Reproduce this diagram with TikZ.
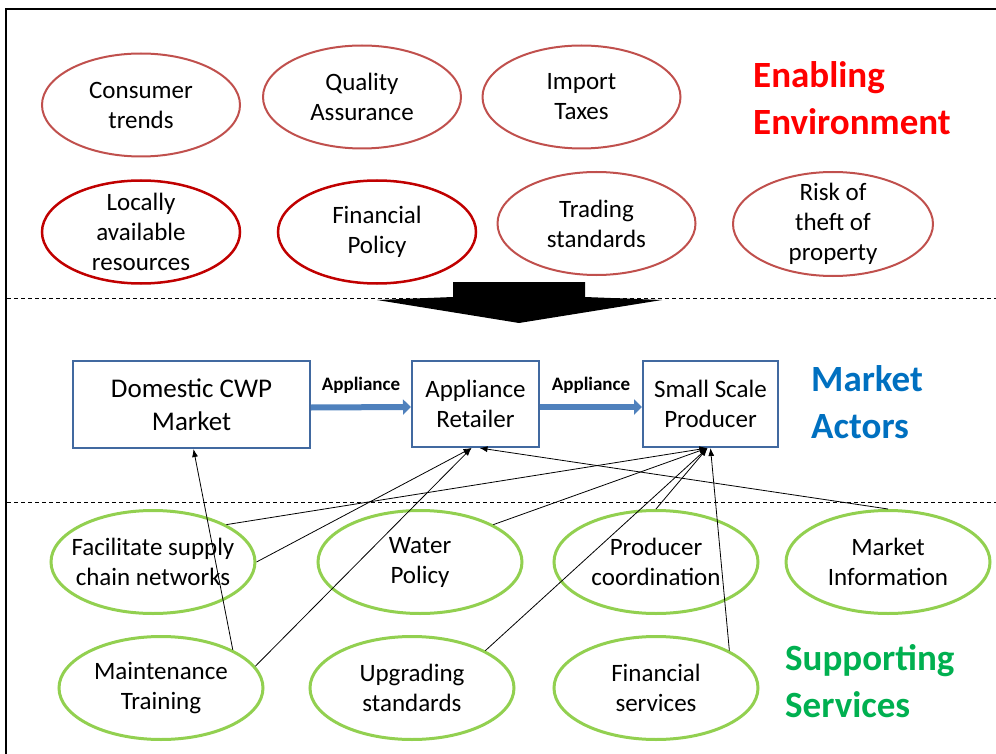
\documentclass[tikz,border=0pt]{standalone}
\usepackage{fontspec}
\setmainfont{Carlito}
\usetikzlibrary{shapes.geometric,arrows.meta}
\definecolor{redl}{RGB}{192,80,77}
\definecolor{redd}{RGB}{192,0,0}
\definecolor{grn}{RGB}{146,208,80}
\definecolor{boxblue}{RGB}{65,105,160}
\definecolor{arrblue}{RGB}{79,129,189}
\definecolor{hred}{RGB}{255,0,0}
\definecolor{hblue}{RGB}{0,112,192}
\definecolor{hgreen}{RGB}{0,176,80}
\begin{document}
\begin{tikzpicture}[x=1pt,y=-1pt,
 env/.style={ellipse, draw=redl, line width=2pt, minimum width=198pt, minimum height=103pt, inner xsep=0pt, inner ysep=-10pt, align=center, font=\fontsize{25}{30}\selectfont},
 envd/.style={env, draw=redd, line width=2.5pt},
 sup/.style={ellipse, draw=grn, line width=3pt, minimum width=204pt, minimum height=103pt, inner xsep=-12pt, inner ysep=0pt, align=center, font=\fontsize{25}{30}\selectfont},
 actor/.style={rectangle, draw=boxblue, line width=2pt, inner sep=0pt, align=center, font=\fontsize{25}{30}\selectfont},
 flow/.style={draw=arrblue, line width=6pt, -{Triangle[length=8pt,width=15pt]}},
 lbl/.style={font=\fontsize{19}{22}\selectfont\bfseries, inner sep=0pt, above=11pt},
 link/.style={draw=black, line width=0.8pt, -{Latex[length=8pt,width=6pt]}},
 head/.style={anchor=west, align=left, inner sep=0pt, font=\fontsize{37}{47}\selectfont\bfseries},
 sep/.style={draw=black, line width=1pt, dash pattern=on 4pt off 3pt}]
\useasboundingbox (0,0) rectangle (996,754);
% frame
\draw[line width=2.5pt] (6,754) -- (6,9) -- (996,9);
% separators
\draw[sep] (7,298) -- (996,298);
\draw[sep] (7,502) -- (996,502);
% enabling environment
\node[env] (ct) at (141,105) {Consumer\\trends};
\node[env] (qa) at (362,97) {Quality\\Assurance};
\node[env] (it) at (581.5,97) {Import\\Taxes};
\node[envd] (lar) at (141,232) {Locally\\available\\resources};
\node[envd] (fp) at (377,232) {Financial\\Policy};
\node[env] (ts) at (596.5,223.5) {Trading\\standards};
\node[env, minimum width=200pt, minimum height=104pt] (rt) at (833,224) {Risk of\\theft of\\property};
% big arrow
\fill (453,282) -- (585,282) -- (585,297) -- (662,300) -- (519,323) -- (377,300) -- (453,297) -- cycle;
% headings
\node[head, text=hred] (ee) at (753,98.5) {Enabling\\Environment};
\node[head, text=hblue] (ma) at (811,402.5) {Market\\Actors};
\node[head, text=hgreen] (ss) at (785,681.5) {Supporting\\Services};
% market actors
\node[actor, minimum width=237pt, minimum height=87pt, font=\fontsize{27}{33}\selectfont] (cwp) at (191.5,404.5) {Domestic CWP\\Market};
\node[actor, minimum width=127pt, minimum height=86pt] (ret) at (475.5,404) {Appliance\\Retailer};
\node[actor, minimum width=135pt, minimum height=86pt] (prod) at (710.5,404) {Small Scale\\Producer};
\draw[flow] ([yshift=-3pt]cwp.east) -- node[lbl] {Appliance} ([yshift=-3pt]ret.west);
\draw[flow] ([yshift=-3pt]ret.east) -- node[lbl] {Appliance} ([yshift=-3pt]prod.west);
% supporting services
\node[sup] (fsc) at (153,562) {Facilitate supply\\chain networks};
\node[sup] (wp) at (420,562) {Water\\Policy};
\node[sup] (pc) at (656,562) {Producer\\coordination};
\node[sup] (mi) at (888,562) {Market\\Information};
\node[sup] (mt) at (161,688) {Maintenance\\Training};
\node[sup] (us) at (412,688) {Upgrading\\standards};
\node[sup] (fs) at (656,688) {Financial\\services};
% links
\draw[link] (mt.28) -- ([xshift=2pt]cwp.south);
\draw[link] (mt.13) -- ([xshift=-4pt]ret.south);
\draw[link] (fsc.east) -- ([xshift=-4pt]ret.south);
\draw[link] (fsc.27) -- ([xshift=-3pt]prod.south);
\draw[link] (wp.27) -- ([xshift=-3pt]prod.south);
\draw[link] (pc.north) -- ([xshift=-3pt]prod.south);
\draw[link] (us.27) -- ([xshift=-3pt]prod.south);
\draw[link] (fs.27) -- (prod.south);
\draw[link] (mi.north) -- ([xshift=4pt]ret.south);
\end{tikzpicture}
\end{document}
